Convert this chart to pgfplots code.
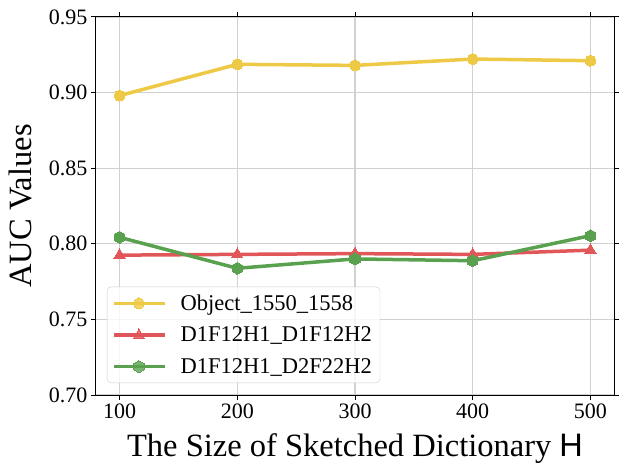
\documentclass[border=0pt]{standalone}
\usepackage{fontspec}
\setmainfont{Liberation Serif}
\newfontfamily\sansH{Liberation Sans}
\usepackage{pgfplots}
\pgfplotsset{compat=1.18}
\definecolor{cY}{RGB}{238,201,69}
\definecolor{cR}{RGB}{225,87,89}
\definecolor{cG}{RGB}{89,161,79}
\pgfdeclareplotmark{hexagon*}{%
  \pgfpathmoveto{\pgfqpointpolar{90}{\pgfplotmarksize}}%
  \pgfpathlineto{\pgfqpointpolar{150}{\pgfplotmarksize}}%
  \pgfpathlineto{\pgfqpointpolar{210}{\pgfplotmarksize}}%
  \pgfpathlineto{\pgfqpointpolar{270}{\pgfplotmarksize}}%
  \pgfpathlineto{\pgfqpointpolar{330}{\pgfplotmarksize}}%
  \pgfpathlineto{\pgfqpointpolar{30}{\pgfplotmarksize}}%
  \pgfpathclose
  \pgfusepathqfillstroke}
\begin{document}
\begin{tikzpicture}
\begin{axis}[
  scale only axis, width=518pt, height=378pt,
  xmin=80, xmax=520, ymin=0.70, ymax=0.95,
  xtick={100,200,300,400,500},
  ytick={0.70,0.75,0.80,0.85,0.90,0.95},
  grid=major,
  grid style={color=black!18, line width=1.3pt},
  tick align=outside, major tick length=5pt,
  every tick/.style={black, line width=1pt},
  axis line style={line width=1pt},
  ticklabel style={font=\fontsize{22}{24}\selectfont},
  /pgf/number format/assume math mode=true,
  yticklabel style={/pgf/number format/fixed,/pgf/number format/fixed zerofill,/pgf/number format/precision=2},
  xlabel={The Size of Sketched Dictionary {\sansH H}},
  ylabel={AUC Values},
  label style={font=\fontsize{32.5}{36}\selectfont},
  xlabel style={at={(axis description cs:0.5,-0.1614)}, anchor=base, inner sep=0pt},
  ylabel style={at={(axis description cs:-0.124,0.5)}, anchor=south, inner sep=0pt},
  legend style={at={(axis description cs:0.0212,0.0317)}, anchor=south west,
    draw=black!20, rounded corners=4pt, fill=white, fill opacity=0.8, text opacity=1,
    font=\fontsize{22.5}{26}\selectfont, row sep=9pt, inner sep=5pt,
    nodes={inner sep=3pt}},
  legend cell align=left,
  legend image code/.code={\draw[mark repeat=2,mark phase=2,#1] plot coordinates {(0pt,0pt) (25pt,0pt) (51pt,0pt)}; \path (62pt,0pt);},
]
\addplot[cY, line width=3.5pt, mark=*, mark size=5.5pt, mark options={solid, line width=0pt}]
  coordinates {(100,0.898) (200,0.9187) (300,0.918) (400,0.9222) (500,0.9211)};
\addlegendentry{Object\_1550\_1558}
\addplot[cR, line width=3.5pt, mark=triangle*, mark size=6.5pt, mark options={solid, line width=0pt}]
  coordinates {(100,0.7925) (200,0.793) (300,0.7935) (400,0.793) (500,0.7958)};
\addlegendentry{D1F12H1\_D1F12H2}
\addplot[cG, line width=3.5pt, mark=hexagon*, mark size=6pt, mark options={solid, line width=0pt}]
  coordinates {(100,0.8043) (200,0.7838) (300,0.790) (400,0.7888) (500,0.8054)};
\addlegendentry{D1F12H1\_D2F22H2}
\end{axis}
\pgfresetboundingbox
\useasboundingbox (-96pt,-78pt) rectangle (527pt,395pt);
\end{tikzpicture}
\end{document}
